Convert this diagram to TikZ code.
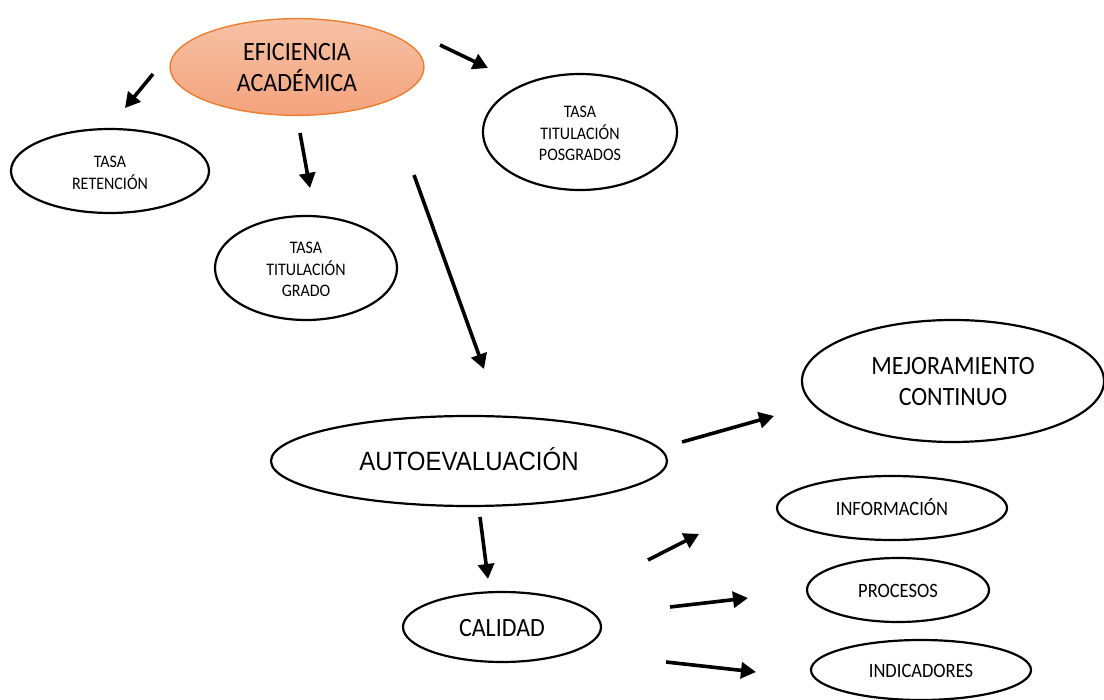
\documentclass[tikz,border=0pt]{standalone}
\usepackage{fontspec}
\usepackage{graphicx}
\setmainfont{Carlito}
\newfontfamily\arialf{Liberation Sans}
\usetikzlibrary{shapes.geometric,arrows.meta}
\definecolor{orEdge}{HTML}{ED7D31}
\definecolor{orTop}{HTML}{F6C1A5}
\definecolor{orBot}{HTML}{F3A37D}
\newcommand{\vtxt}[1]{\raisebox{0pt}[\dimexpr\height+6pt\relax][\depth]{\scalebox{1}[1.1]{\begin{tabular}{@{}c@{}}#1\end{tabular}}}}
\tikzset{
  ell/.style={ellipse, draw=black, line width=2.2pt, inner sep=0pt, align=center},
  arr/.style={line width=3.6pt, -{Triangle[length=15pt,width=16pt]}},
  fsmall/.style={font=\fontsize{16}{19.6}\selectfont},
  fmid/.style={font=\fontsize{18.5}{22}\selectfont},
  fbig/.style={font=\fontsize{24}{28.2}\selectfont},
}
\begin{document}
\begin{tikzpicture}[x=1pt,y=-1pt]
\useasboundingbox (0,0) rectangle (1104,700);
% nodes
\node[ell, draw=orEdge, line width=1.4pt, top color=orTop, bottom color=orBot, minimum width=254pt, minimum height=96pt, fbig] (ef) at (297,67) {\vtxt{EFICIENCIA\\ACADÉMICA}};
\node[ell, minimum width=198pt, minimum height=84pt, fsmall] (ret) at (110,171) {\vtxt{TASA\\RETENCIÓN}};
\node[ell, minimum width=182pt, minimum height=104pt, fsmall] (grado) at (306,268) {\vtxt{TASA\\TITULACIÓN\\GRADO}};
\node[ell, minimum width=194pt, minimum height=116pt, fsmall] (pos) at (580,132) {\vtxt{TASA\\TITULACIÓN\\POSGRADOS}};
\node[ell, minimum width=302pt, minimum height=122pt, fbig] (mej) at (953,381) {\vtxt{MEJORAMIENTO\\CONTINUO}};
\node[ell, minimum width=396pt, minimum height=90pt, font=\arialf\fontsize{24}{28}\selectfont] (auto) at (469,461) {\vtxt{AUTOEVALUACIÓN}};
\node[ell, minimum width=230pt, minimum height=64pt, fmid] (inf) at (892,508) {\vtxt{INFORMACIÓN}};
\node[ell, minimum width=182pt, minimum height=64pt, fmid] (proc) at (898,590) {\vtxt{PROCESOS}};
\node[ell, minimum width=198pt, minimum height=70pt, font=\fontsize{24}{28}\selectfont] (cal) at (502,627) {\vtxt{CALIDAD}};
\node[ell, minimum width=220pt, minimum height=60pt, fmid] (ind) at (921,670) {\vtxt{INDICADORES}};
% arrow end points
\coordinate (a1s) at (153,74);  \coordinate (a1e) at (125,108);
\coordinate (a2s) at (300,133); \coordinate (a2e) at (310,188);
\coordinate (a3s) at (440,45);  \coordinate (a3e) at (488,68);
\coordinate (a4s) at (414,175); \coordinate (a4e) at (484,369);
\coordinate (a5s) at (682,442); \coordinate (a5e) at (774,416);
\coordinate (a6s) at (480,517); \coordinate (a6e) at (488,579);
\coordinate (a7s) at (648,560); \coordinate (a7e) at (699,534);
\coordinate (a8s) at (670,607); \coordinate (a8e) at (748,598);
\coordinate (a9s) at (666,662); \coordinate (a9e) at (756,672);
\foreach \i in {1,...,9} { \draw[arr] (a\i s) -- (a\i e); }
\end{tikzpicture}
\end{document}
